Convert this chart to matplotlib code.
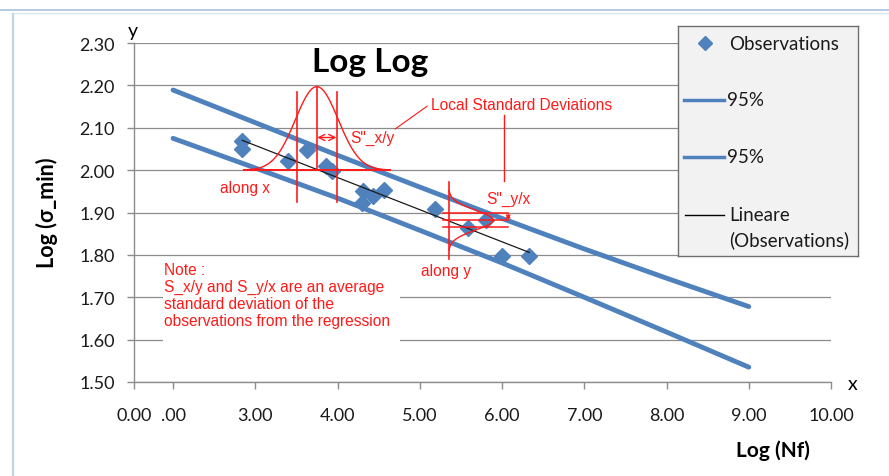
import numpy as np
import matplotlib
matplotlib.use("Agg")
import matplotlib.pyplot as plt
from matplotlib.lines import Line2D
from matplotlib.patches import Rectangle

# ---------------- data ----------------
obs_x = [2.84, 2.84, 3.40, 3.63, 3.86, 3.93, 4.31, 4.30, 4.43, 4.57, 5.19, 5.59, 5.80, 6.00, 6.33]
obs_y = [2.068, 2.050, 2.021, 2.047, 2.010, 1.998, 1.950, 1.922, 1.939, 1.953, 1.908, 1.863, 1.882, 1.797, 1.797]

band_x = [2, 3, 4, 5, 6, 7, 8, 9]
band_upper = [2.189, 2.112, 2.035, 1.960, 1.886, 1.814, 1.745, 1.678]
band_lower = [2.075, 2.005, 1.934, 1.858, 1.781, 1.700, 1.618, 1.535]

x_axis_start = 1.525
x_ticks = [x_axis_start, 2, 3, 4, 5, 6, 7, 8, 9, 10]
x_tick_labels = ["0.00", ".00", "3.00", "4.00", "5.00", "6.00", "7.00", "8.00", "9.00", "10.00"]
y_ticks = [1.50, 1.60, 1.70, 1.80, 1.90, 2.00, 2.10, 2.20, 2.30]
y_tick_labels = ["1.50", "1.60", "1.70", "1.80", "1.90", "2.00", "2.10", "2.20", "2.30"]

legend_labels = ["Observations", "95%", "95%", "Lineare\n(Observations)"]

title = "Log Log"
x_label = "Log (Nf)"
y_label = "Log (\u03c3_min)"

note_text = ("Note :\nS_x/y and S_y/x are an average\n"
             "standard deviation of the\nobservations from the regression")

# illustrative distributions (annotation shapes)
gx_center, gx_base, gx_height, gx_sigma, gx_half = 3.748, 2.0, 0.197, 0.26, 0.89
gx_line_off, gx_line_lo, gx_line_hi = 0.243, 1.925, 2.184
gy_center, gy_base, gy_width, gy_sigma, gy_half = 1.882, 5.35, 0.54, 0.0236, 0.07
gy_line_lo, gy_line_hi = 1.790, 1.972
gy_levels = [1.898, 1.883, 1.865]
gy_levels_x = [5.285, 6.075]

BLUE = "#4f81bd"
RED = "#ff1a1a"
GRID = "#8c8c8c"
TXT = "#1a1a1a"
FONT = ["Lato", "DejaVu Sans"]
RFONT = ["Liberation Sans", "DejaVu Sans"]

W, H = 889, 477
fig = plt.figure(figsize=(W / 100, H / 100), dpi=100)
fig.patch.set_facecolor("white")

ax_l, ax_r, ax_t, ax_b = 134, 831, 44, 383
ax = fig.add_axes([ax_l / W, 1 - ax_b / H, (ax_r - ax_l) / W, (ax_b - ax_t) / H])
ax.set_xlim(x_axis_start, 10)
ax.set_ylim(1.5, 2.3)

for s in ["top", "right"]:
    ax.spines[s].set_visible(False)
for s in ["left", "bottom"]:
    ax.spines[s].set_color(GRID)
    ax.spines[s].set_linewidth(1.0)

ax.set_xticks(x_ticks)
ax.set_xticklabels(x_tick_labels)
ax.set_yticks(y_ticks)
ax.set_yticklabels(y_tick_labels)
ax.tick_params(axis="both", direction="out", length=5, width=1, color=GRID,
               labelcolor=TXT, labelsize=13)
ax.tick_params(axis="y", pad=9)
ax.tick_params(axis="x", pad=13)
for lab in ax.get_xticklabels() + ax.get_yticklabels():
    lab.set_family(FONT)

ax.set_axisbelow(True)
ax.yaxis.grid(True, color=GRID, linewidth=0.9, zorder=0)
ax.xaxis.grid(False)

# white box behind the note (covers gridlines)
ax.add_patch(Rectangle((1.88, 1.588), 2.88, 0.197, facecolor="white",
                       edgecolor="none", zorder=1))

# bands
ax.plot(band_x, band_upper, color=BLUE, lw=3.5, solid_capstyle="round", zorder=2)
ax.plot(band_x, band_lower, color=BLUE, lw=3.5, solid_capstyle="round", zorder=2)

# observations
ax.plot(obs_x, obs_y, linestyle="none", marker="D", markersize=8.5,
        color=BLUE, markeredgecolor=BLUE, zorder=3)

# linear regression
coef = np.polyfit(obs_x, obs_y, 1)
fit_x = np.array([min(obs_x), max(obs_x)])
ax.plot(fit_x, np.polyval(coef, fit_x), color=TXT, lw=0.9, zorder=4)

# --- red annotation: distribution along x ---
t = np.linspace(-gx_half, gx_half, 300)
ax.plot(gx_center + t, gx_base + gx_height * np.exp(-0.5 * (t / gx_sigma) ** 2),
        color=RED, lw=1.0, zorder=5)
ax.plot([gx_center - gx_half, gx_center + gx_half], [gx_base, gx_base],
        color=RED, lw=1.4, zorder=5)
ax.plot([gx_center, gx_center], [gx_base, gx_base + gx_height], color=RED, lw=1.2, zorder=5)
for sgn in (-1, 1):
    xx = gx_center + sgn * gx_line_off
    ax.plot([xx, xx], [gx_line_lo, gx_line_hi], color=RED, lw=1.2, zorder=5)
ax.annotate("", xy=(gx_center + gx_line_off - 0.005, 2.077), xytext=(gx_center + 0.005, 2.077),
            arrowprops=dict(arrowstyle="<->", color=RED, lw=1.0, mutation_scale=11,
                            shrinkA=0, shrinkB=0), zorder=5)

# --- red annotation: distribution along y ---
u = np.linspace(-gy_half, gy_half, 300)
ax.plot(gy_base + gy_width * np.exp(-0.5 * (u / gy_sigma) ** 2), gy_center + u,
        color=RED, lw=1.0, zorder=5)
ax.plot([gy_base, gy_base], [gy_line_lo, gy_line_hi], color=RED, lw=1.2, zorder=5)
for lv in gy_levels:
    ax.plot(gy_levels_x, [lv, lv], color=RED, lw=1.1, zorder=5)
ax.annotate("", xy=(gy_levels_x[1], gy_levels[0]), xytext=(gy_levels_x[1], gy_levels[1]),
            arrowprops=dict(arrowstyle="<->", color=RED, lw=0.9, mutation_scale=6,
                            shrinkA=0, shrinkB=0), zorder=5)

# leader lines
ax.plot([4.70, 5.09], [2.097, 2.151], color=RED, lw=0.8, zorder=5)
ax.plot([6.018, 6.018], [1.975, 2.129], color=RED, lw=1.0, zorder=5)

rkw = dict(color=RED, fontsize=11.2, family=RFONT, va="center", ha="left", zorder=6)
ax.text(5.135, 2.155, "Local Standard Deviations", **rkw)
ax.text(4.153, 2.077, 'S"_x/y', **rkw)
ax.text(5.814, 1.934, 'S"_y/x', **rkw)
ax.text(2.57, 1.958, "along x", **rkw)
ax.text(5.013, 1.764, "along y", **rkw)
ax.text(1.895, 1.783, note_text, color=RED, fontsize=11.2, family=RFONT,
        va="top", ha="left", linespacing=1.17, zorder=6)

# title and axis labels
ax.text(0.3386, 0.917, title, transform=ax.transAxes, ha="center", va="baseline",
        fontsize=24, fontweight="bold", family=FONT, color="black")
fig.text(773 / W, 1 - 451 / H, x_label, ha="center", va="center",
         fontsize=15, fontweight="bold", family=FONT, color="black")
fig.text(47 / W, 1 - 213 / H, y_label, ha="center", va="center", rotation=90,
         fontsize=15.5, fontweight="bold", family=FONT, color="black")
fig.text(133 / W, 1 - 31 / H, "y", ha="center", va="center", fontsize=14,
         family=FONT, color="black")
fig.text(853 / W, 1 - 385 / H, "x", ha="center", va="center", fontsize=14,
         family=FONT, color="black")

# ---------------- legend box ----------------
lx0, ly0, lx1, ly1 = 678, 27, 858, 257
lax = fig.add_axes([lx0 / W, 1 - ly1 / H, (lx1 - lx0) / W, (ly1 - ly0) / H], zorder=10)
lax.set_xlim(0, lx1 - lx0)
lax.set_ylim(ly1 - ly0, 0)
lax.set_facecolor("#f2f2f2")
lax.set_xticks([])
lax.set_yticks([])
for s in lax.spines.values():
    s.set_color("#6f6f6f")
    s.set_linewidth(1.0)
lkw = dict(fontsize=13.5, family=FONT, color=TXT, va="center", ha="left")
lax.plot([27], [17], marker="D", markersize=7, color=BLUE, linestyle="none")
lax.text(51, 17, legend_labels[0], **lkw)
lax.plot([6, 46], [74, 74], color=BLUE, lw=2.5)
lax.text(49, 74, legend_labels[1], **lkw)
lax.plot([6, 46], [131, 131], color=BLUE, lw=2.5)
lax.text(49, 131, legend_labels[2], **lkw)
lax.plot([7, 46], [189, 189], color="black", lw=1.0)
l1, l2 = legend_labels[3].split("\n")
lax.text(51, 189, l1, **lkw)
lax.text(51, 213, l2, **lkw)

# ---------------- chart frame decoration ----------------
fig.add_artist(Line2D([0, 1], [1 - 10.5 / H] * 2, transform=fig.transFigure,
                      color="#a9c1dd", lw=1.2))
fig.add_artist(Line2D([14 / W, 1], [1 - 13.5 / H] * 2, transform=fig.transFigure,
                      color="#dde7f2", lw=1.0))
fig.add_artist(Line2D([12.5 / W] * 2, [0, 1 - 15 / H], transform=fig.transFigure,
                      color="#c3d3df", lw=1.6))

fig.savefig("out.png", dpi=100)
